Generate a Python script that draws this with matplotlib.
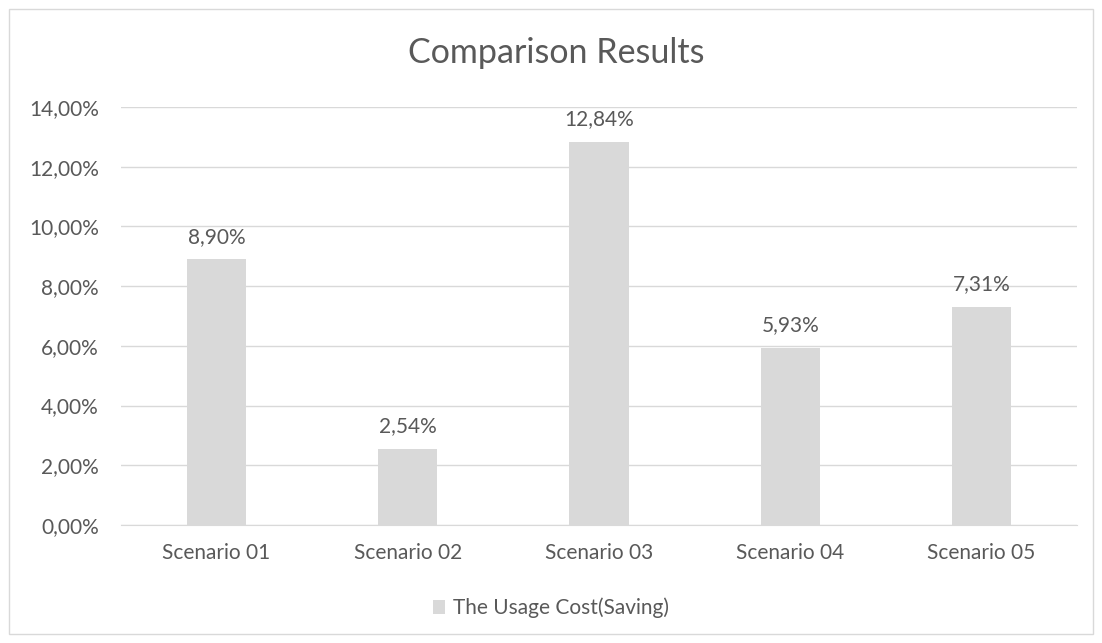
import matplotlib.pyplot as plt
from matplotlib.patches import Rectangle

# data
scenarios = ["Scenario 01", "Scenario 02", "Scenario 03", "Scenario 04", "Scenario 05"]
savings = [8.90, 2.54, 12.84, 5.93, 7.31]
yticks = [0, 2, 4, 6, 8, 10, 12, 14]

txt = "#595959"
bar_col = "#d9d9d9"
plt.rcParams['font.family'] = ['Lato', 'DejaVu Sans']

fig = plt.figure(figsize=(11.02, 6.43), dpi=100)
# outer chart border
fig.patches.append(Rectangle((9 / 1102, 9 / 643), 1084 / 1102, 625 / 643, transform=fig.transFigure,
                             fill=False, edgecolor="#d9d9d9", linewidth=1))

ax = fig.add_axes([121 / 1102, 1 - 525 / 643, (1077 - 121) / 1102, (525 - 107) / 643])
x = range(len(scenarios))
ax.bar(x, savings, width=0.31, color=bar_col, label="The Usage Cost(Saving)", zorder=2)
for xi, v in zip(x, savings):
    ax.annotate(f"{v:.2f}%".replace(".", ","), (xi, v), xytext=(0, 12), textcoords="offset points",
                ha="center", va="baseline", fontsize=15, color=txt)

ax.set_xlim(-0.5, len(scenarios) - 0.5)
ax.set_ylim(0, 14)
ax.set_yticks(yticks)
ax.set_yticklabels([f"{t:.2f}%".replace(".", ",") for t in yticks])
ax.set_xticks(list(x))
ax.set_xticklabels(scenarios)
ax.tick_params(length=0, labelsize=15, colors=txt, pad=13)
ax.tick_params(axis="y", pad=16)
ax.grid(axis="y", color="#d9d9d9", linewidth=1, zorder=0)
for s in ["top", "right", "left"]:
    ax.spines[s].set_visible(False)
ax.spines["bottom"].set_color("#d9d9d9")

fig.text(0.505, 1 - 63 / 643, "Comparison Results", ha="center", va="baseline",
         fontsize=24.5, color=txt)
ax.legend(loc="center", bbox_to_anchor=(0.5, 1 - 608 / 643), bbox_transform=fig.transFigure,
          frameon=False, fontsize=15, labelcolor=txt, handlelength=0.6, handleheight=0.6,
          handletextpad=0.4)

fig.savefig("out.png", dpi=100)
